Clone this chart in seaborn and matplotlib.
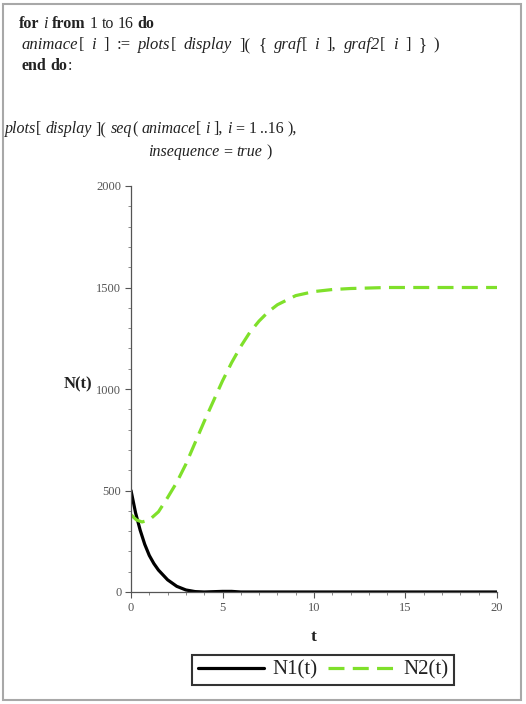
import re
import pandas as pd
import matplotlib
matplotlib.use("Agg")
import matplotlib.pyplot as plt
import matplotlib.patches as patches
from matplotlib.ticker import MultipleLocator
import seaborn as sns

# values
t1 = [0, 0.25, 0.5, 0.75, 1, 1.25, 1.5, 2, 2.5, 3, 3.5, 4, 5, 5.5, 6, 7, 10, 15, 20]
n1 = [500, 390, 305, 235, 180, 140, 108, 60, 28, 10, 2, 0, 3, 3, 0, 0, 0, 0, 0]

t2 = [0, 0.3, 0.6, 1, 1.5, 2, 2.5, 3, 3.5, 4, 4.5, 5, 5.5, 6, 6.5, 7, 7.5, 8,
      9, 10, 11, 12, 14, 16, 20]
n2 = [380, 355, 345, 355, 395, 465, 540, 630, 735, 840, 940, 1040, 1130, 1210,
      1280, 1335, 1380, 1415, 1460, 1480, 1490, 1495, 1500, 1500, 1500]

x_ticks = [0, 5, 10, 15, 20]
y_ticks = [0, 500, 1000, 1500, 2000]
series_labels = ["N1(t)", "N2(t)"]

sns.set_style("white")
plt.rcParams['font.family'] = ['Liberation Serif', 'DejaVu Serif']

W, H = 526, 704
fig = plt.figure(figsize=(W / 100, H / 100), dpi=100)
ax = fig.add_axes([131 / W, 1 - 592 / H, (497 - 131) / W, (592 - 186) / H])

df1 = pd.DataFrame({"t": t1, "N": n1})
df2 = pd.DataFrame({"t": t2, "N": n2})

sns.lineplot(data=df1, x="t", y="N", ax=ax, color="black", linewidth=2.3,
             label=series_labels[0])
sns.lineplot(data=df2, x="t", y="N", ax=ax, color="#7fe02a", linewidth=2.3,
             linestyle=(0, (5, 2.6)), label=series_labels[1])

ax.set_xlim(0, 20)
ax.set_ylim(0, 2000)
ax.set_xticks(x_ticks)
ax.set_yticks(y_ticks)
ax.xaxis.set_minor_locator(MultipleLocator(1))
ax.yaxis.set_minor_locator(MultipleLocator(100))
ax.tick_params(which="major", direction="out", length=4, width=0.8,
               labelsize=9, labelcolor="#555", color="#555", pad=3)
ax.tick_params(which="minor", direction="out", length=2, width=0.6, color="#777")
ax.tick_params(axis="y", which="both", left=True)
ax.tick_params(axis="x", which="both", bottom=True)
for s in ["top", "right"]:
    ax.spines[s].set_visible(False)
for s in ["left", "bottom"]:
    ax.spines[s].set_color("#555")
    ax.spines[s].set_linewidth(0.9)
ax.set_xlabel("")
ax.set_ylabel("")
ax.get_legend().remove()

fig.text(314 / W, 1 - 637 / H, "t", ha="center", va="center",
         fontsize=12.5, fontweight="bold", color="#222")
fig.text(78 / W, 1 - 384 / H, "N(t)", ha="center", va="center",
         fontsize=12, fontweight="bold", color="#222")

handles, labels = ax.get_legend_handles_labels()
leg = fig.legend(handles, labels, loc="center", ncol=2,
                 bbox_to_anchor=(323 / W, 1 - 670 / H), fontsize=15,
                 frameon=True, fancybox=False, edgecolor="black",
                 handlelength=3.2, handletextpad=0.4, columnspacing=0.5,
                 borderpad=0.25, borderaxespad=0)
leg.get_frame().set_linewidth(1.5)
for txt in leg.get_texts():
    txt.set_color("#222")

# code lines above the plot, built from styled pieces
renderer = fig.canvas.get_renderer()


def code_line(x, y, pieces, size=11.5, space=4.0):
    for s, style in pieces:
        kw = {}
        if "b" in style:
            kw["fontweight"] = "bold"
        if "i" in style:
            kw["fontstyle"] = "italic"
        for chunk in re.split("( +)", s):
            if not chunk:
                continue
            if chunk.strip() == "":
                x += len(chunk) * space
                continue
            t = fig.text(x / W, 1 - y / H, chunk, ha="left", va="center",
                         fontsize=size, color="#222", **kw)
            x += t.get_window_extent(renderer).width


code_line(19, 24, [("for ", "b"), ("i", "i"), (" from ", "b"), ("1 to 16", ""),
                   (" do", "b")])
code_line(22, 45, [("animace", "i"), ("[ ", ""), ("i", "i"), (" ] := ", ""),
                   ("plots", "i"), ("[ ", ""), ("display", "i"), (" ]( { ", ""),
                   ("graf", "i"), ("[ ", ""), ("i", "i"), (" ], ", ""),
                   ("graf2", "i"), ("[ ", ""), ("i", "i"), (" ] } )", "")],
          size=12, space=7.5)
code_line(22, 66, [("end do", "b"), (":", "")])
code_line(5, 129, [("plots", "i"), ("[ ", ""), ("display", "i"), (" ]( ", ""),
                   ("seq", "i"), ("( ", ""), ("animace", "i"), ("[ ", ""),
                   ("i", "i"), (" ], ", ""), ("i", "i"), (" = 1 ..16 ),", "")])
code_line(148, 152, [("insequence", "i"), (" = ", ""), ("true", "i"), (" )", "")])

fig.patches.append(patches.Rectangle((3 / W, 4 / H), 518 / W, 696 / H,
                                     transform=fig.transFigure, fill=False,
                                     edgecolor="#a8a8a8", linewidth=1.5))

fig.savefig("out.png", dpi=100)
